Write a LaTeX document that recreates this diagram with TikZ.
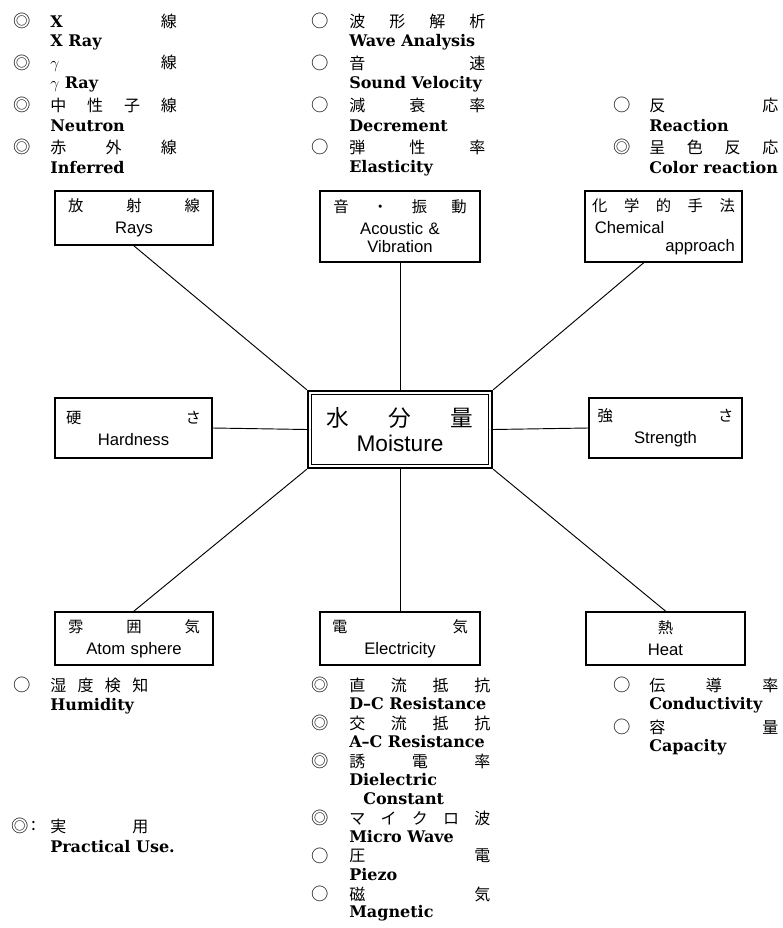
\documentclass[tikz,border=0pt]{standalone}
\usepackage{fontspec}
\usepackage{tikz}
\usetikzlibrary{positioning}
\newfontfamily\jpfont{Noto Sans CJK JP}
\newfontfamily\enfont{DejaVu Serif}
\newfontfamily\boxfnt{Liberation Sans}
\newcommand\lj[2]{\makebox[#1][s]{#2}}
\newcommand\bj[1]{\makebox[\linewidth][s]{\jpfont\fontsize{11.5}{12}\selectfont #1}}
\tikzset{
  box/.style={draw, line width=1.4pt, inner sep=0pt, align=center,
    font=\boxfnt\fontsize{12.5}{16}\selectfont},
  mk/.style={inner sep=0pt, font=\jpfont\fontsize{13}{13}\selectfont},
  jl/.style={anchor=west, inner sep=0pt, font=\jpfont\fontsize{12}{13}\selectfont},
  el/.style={anchor=west, inner sep=0pt, font=\enfont\bfseries\fontsize{12}{13}\selectfont},
  link/.style={line width=0.7pt}
}
\begin{document}
\begin{tikzpicture}[x=0.75pt,y=-0.75pt]
\useasboundingbox (0,0) rectangle (782,928);

\node[box, line width=1.8pt, minimum width=138pt, minimum height=57.75pt, text width=110pt,
  font=\boxfnt\fontsize{17}{19}\selectfont] (moist) at (400,429.5)
  {\makebox[\linewidth][s]{\jpfont\fontsize{17}{19}\selectfont 水\hfill 分\hfill 量}\\ Moisture};
\draw[line width=0.8pt] ([shift={(5,5)}]moist.north west) rectangle ([shift={(-5,-5)}]moist.south east);

\node[box, minimum width=118.5pt, minimum height=40.5pt, text width=99pt] (rays) at (134,218)
  {\bj{放\hfill 射\hfill 線}\\[0.5pt] Rays};
\node[box, minimum width=120pt, minimum height=53.25pt, text width=100pt] (acou) at (400,226.5)
  {\bj{音\hfill ・\hfill 振\hfill 動}\\[0.5pt] Acoustic \&\\[-2.5pt] Vibration};
\node[box, minimum width=117.75pt, minimum height=53.25pt, text width=107pt] (chem) at (663.5,226.5)
  {\bj{化\hfill 学\hfill 的\hfill 手\hfill 法}\\[0.5pt]
   \makebox[\linewidth][l]{\hspace*{2pt}Chemical}\\[-2.5pt] \makebox[\linewidth][r]{approach}};
\node[box, minimum width=117.75pt, minimum height=45pt, text width=101pt] (hard) at (133.5,428)
  {\bj{硬\hfill さ}\\[0.5pt] Hardness};
\node[box, minimum width=114.75pt, minimum height=45pt, text width=102pt] (str) at (665.5,428)
  {\bj{強\hfill さ}\\[0.5pt] Strength};
\node[box, minimum width=118.5pt, minimum height=39.75pt, text width=99pt] (atom) at (134,638.5)
  {\bj{雰\hfill 囲\hfill 気}\\[0.5pt] Atom sphere};
\node[box, minimum width=120pt, minimum height=39.75pt, text width=102pt] (elec) at (400,638.5)
  {\bj{電\hfill 気}\\[0.5pt] Electricity};
\node[box, minimum width=119.25pt, minimum height=39.75pt, text width=100pt] (heat) at (665.5,638.5)
  {{\jpfont\fontsize{11.5}{12}\selectfont 熱}\\[0.5pt] Heat};

\draw[link] (rays.south) -- (moist.north west);
\draw[link] (acou.south) -- (moist.north);
\draw[link] ([xshift=-15pt]chem.south) -- (moist.north east);
\draw[link] (hard.east) -- (moist.west);
\draw[link] (str.west) -- (moist.east);
\draw[link] (moist.south west) -- (atom.north);
\draw[link] (moist.south) -- (elec.north);
\draw[link] (moist.south east) -- (heat.north);

\node[mk] (ma1) at (22,21) {◎};
\node[jl] (ja1) at (50,21) {\lj{95pt}{{\enfont\bfseries X}\hfill 線}};
\node[el] (ea1) at (50,42) {X Ray};
\node[mk] (ma2) at (22,63) {◎};
\node[jl] (ja2) at (50,63) {\lj{95pt}{$\gamma$\hfill 線}};
\node[el] (ea2) at (50,84) {$\gamma$ Ray};
\node[mk] (ma3) at (22,105) {◎};
\node[jl] (ja3) at (50,105) {\lj{95pt}{中\hfill 性\hfill 子\hfill 線}};
\node[el] (ea3) at (50,126) {Neutron};
\node[mk] (ma4) at (22,147) {◎};
\node[jl] (ja4) at (50,147) {\lj{95pt}{赤\hfill 外\hfill 線}};
\node[el] (ea4) at (50,168) {Inferred};

\node[mk] (mb1) at (320,21) {○};
\node[jl] (jb1) at (349,21) {\lj{102pt}{波\hfill 形\hfill 解\hfill 析}};
\node[el] (eb1) at (349,42) {Wave Analysis};
\node[mk] (mb2) at (320,63) {○};
\node[jl] (jb2) at (349,63) {\lj{102pt}{音\hfill 速}};
\node[el] (eb2) at (349,84) {Sound Velocity};
\node[mk] (mb3) at (320,105) {○};
\node[jl] (jb3) at (349,105) {\lj{102pt}{減\hfill 衰\hfill 率}};
\node[el] (eb3) at (349,126) {Decrement};
\node[mk] (mb4) at (320,147) {○};
\node[jl] (jb4) at (349,147) {\lj{102pt}{弾\hfill 性\hfill 率}};
\node[el] (eb4) at (349,168) {Elasticity};

\node[mk] (mc1) at (622,105) {○};
\node[jl] (jc1) at (649,105) {\lj{96.75pt}{反\hfill 応}};
\node[el] (ec1) at (649,126) {Reaction};
\node[mk] (mc2) at (622,147) {◎};
\node[jl] (jc2) at (649,147) {\lj{96.75pt}{呈\hfill 色\hfill 反\hfill 応}};
\node[el] (ec2) at (649,168) {Color reaction};

\node[mk] (md1) at (22,685) {○};
\node[jl] (jd1) at (50,685) {\lj{73.5pt}{湿\hfill 度\hfill 検\hfill 知}};
\node[el] (ed1) at (50,706) {Humidity};
\node[mk] (md2) at (20,826) {◎};
\node[mk] (colon) at (34,826) {:};
\node[jl] (jd2) at (50,826) {\lj{73.5pt}{実\hfill 用}};
\node[el] (ed2) at (50,847) {Practical Use.};

\node[mk] (me1) at (320,685) {◎};
\node[jl] (je1) at (349,685) {\lj{105.75pt}{直\hfill 流\hfill 抵\hfill 抗}};
\node[el] (ee1) at (349,704) {D–C Resistance};
\node[mk] (me2) at (320,723) {◎};
\node[jl] (je2) at (349,723) {\lj{105.75pt}{交\hfill 流\hfill 抵\hfill 抗}};
\node[el] (ee2) at (349,742) {A–C Resistance};
\node[mk] (me3) at (320,761) {◎};
\node[jl] (je3) at (349,761) {\lj{105.75pt}{誘\hfill 電\hfill 率}};
\node[el] (ee3) at (349,780) {Dielectric};
\node[el] (ee3b) at (363,799) {Constant};
\node[mk] (me4) at (320,818) {◎};
\node[jl] (je4) at (349,818) {\lj{105.75pt}{マ\hfill イ\hfill ク\hfill ロ\hfill 波}};
\node[el] (ee4) at (349,837) {Micro Wave};
\node[mk] (me5) at (320,856) {○};
\node[jl] (je5) at (349,856) {\lj{105.75pt}{圧\hfill 電}};
\node[el] (ee5) at (349,875) {Piezo};
\node[mk] (me6) at (320,894) {○};
\node[jl] (je6) at (349,894) {\lj{105.75pt}{磁\hfill 気}};
\node[el] (ee6) at (349,913) {Magnetic};

\node[mk] (mf1) at (622,685) {○};
\node[jl] (jf1) at (649,685) {\lj{96.75pt}{伝\hfill 導\hfill 率}};
\node[el] (ef1) at (649,705) {Conductivity};
\node[mk] (mf2) at (622,727) {○};
\node[jl] (jf2) at (649,727) {\lj{96.75pt}{容\hfill 量}};
\node[el] (ef2) at (649,747) {Capacity};
\end{tikzpicture}
\end{document}
